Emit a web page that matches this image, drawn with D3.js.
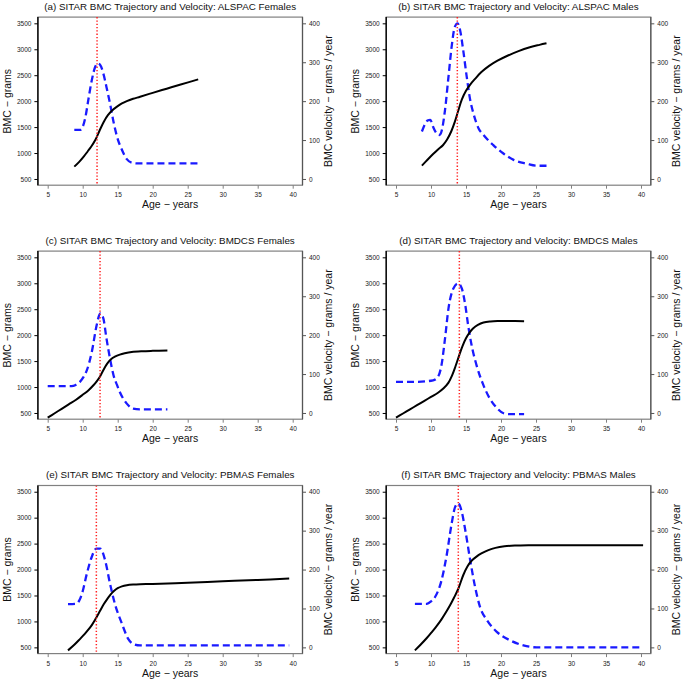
<!DOCTYPE html>
<html>
<head>
<meta charset="utf-8">
<script src="https://cdn.jsdelivr.net/npm/d3@7"></script>
<style>
body{margin:0;background:#fff;}
text{font-family:"Liberation Sans",Arial,Helvetica,sans-serif;}
</style>
</head>
<body>
<svg id="chart" width="685" height="679"></svg>
<script>
// data: ages (years), BMC (grams), velocity (grams/year)
var titles = [
    "(a) SITAR BMC Trajectory and Velocity: ALSPAC Females",
    "(b) SITAR BMC Trajectory and Velocity: ALSPAC Males",
    "(c) SITAR BMC Trajectory and Velocity: BMDCS Females",
    "(d) SITAR BMC Trajectory and Velocity: BMDCS Males",
    "(e) SITAR BMC Trajectory and Velocity: PBMAS Females",
    "(f) SITAR BMC Trajectory and Velocity: PBMAS Males"
];
var peakAges = [12.05, 13.76, 12.48, 14.05, 11.95, 13.9];

var ageTicks = [5, 10, 15, 20, 25, 30, 35, 40];
var bmcTicks = [500, 1000, 1500, 2000, 2500, 3000, 3500];
var velTicks = [0, 100, 200, 300, 400];

var ageBmcA = [8.8, 9.5, 10.2, 10.7, 11.2, 11.8, 12.4, 13.0, 13.6, 14.2, 14.9, 15.6, 16.3, 17.2, 18.2, 20, 22, 24, 26.5];
var bmcA    = [738, 830, 940, 1030, 1120, 1250, 1430, 1600, 1730, 1820, 1895, 1955, 2000, 2045, 2085, 2160, 2240, 2320, 2420];
var ageVelA = [8.8, 9.6, 10.0, 10.4, 10.8, 11.3, 11.8, 12.1, 12.5, 12.95, 13.4, 13.9, 14.4, 14.9, 15.6, 16.3, 17.0, 17.7, 20, 26.5];
var velA    = [126, 126, 134, 160, 203, 254, 289, 297, 293, 271, 236, 194, 147, 109, 75, 51, 42, 40, 40, 40];

var ageBmcB = [8.7, 9.5, 10.3, 11.0, 11.7, 12.3, 12.9, 13.4, 13.9, 14.4, 15.0, 15.6, 16.3, 17.2, 18.3, 19.5, 21, 22.5, 24, 25.5, 26.5];
var bmcB    = [757, 870, 980, 1070, 1150, 1260, 1420, 1600, 1820, 2030, 2200, 2320, 2430, 2560, 2680, 2780, 2880, 2965, 3035, 3085, 3115];
var ageVelB = [8.7, 9.5, 9.9, 10.3, 10.8, 11.2, 11.5, 12.0, 12.5, 12.95, 13.4, 13.8, 14.15, 14.6, 15.1, 15.6, 16.05, 16.8, 17.5, 18.9, 20.3, 21.8, 23.7, 25.1, 26.5];
var velB    = [122, 150, 152, 134, 117, 113, 122, 177, 263, 340, 391, 400, 383, 331, 263, 203, 169, 130, 113, 87, 66, 49, 39, 34, 34];

var ageBmcC = [5, 6, 7, 8, 9, 10, 10.8, 11.5, 12.0, 12.5, 13.0, 13.5, 14.0, 14.6, 15.3, 16.0, 17.0, 18.5, 20, 22.1];
var bmcC    = [410, 495, 580, 665, 750, 850, 935, 1030, 1110, 1210, 1340, 1450, 1530, 1585, 1625, 1650, 1675, 1690, 1697, 1703];
var ageVelC = [5, 8.4, 9.0, 9.6, 10.1, 10.6, 11.3, 12.0, 12.5, 12.95, 13.4, 13.9, 14.4, 14.9, 15.3, 16.3, 17.2, 18.2, 22.1];
var velC    = [69, 69, 72, 80, 92, 110, 157, 226, 256, 243, 191, 140, 97, 72, 54, 24, 11, 9, 9];

var ageBmcD = [5, 6, 7, 8, 9, 10, 11, 11.8, 12.5, 13.0, 13.5, 14.0, 14.5, 15.0, 15.5, 16.0, 16.7, 17.5, 18.5, 19.5, 21, 23.3];
var bmcD    = [410, 490, 570, 650, 730, 810, 890, 975, 1085, 1220, 1400, 1600, 1790, 1940, 2050, 2130, 2200, 2245, 2265, 2272, 2272, 2270];
var ageVelD = [5, 8, 10.3, 11.0, 11.5, 12.0, 12.5, 13.2, 13.9, 14.4, 14.9, 15.3, 15.8, 16.5, 17.5, 18.4, 19.4, 20.3, 21.3, 23.3];
var velD    = [80, 80, 84, 93, 123, 191, 269, 320, 333, 320, 277, 226, 174, 123, 71, 37, 13, 0, -3, -3];

var ageBmcE = [7.9, 8.8, 9.6, 10.3, 10.8, 11.3, 11.8, 12.5, 13.0, 13.5, 14.0, 14.5, 15.0, 15.6, 16.3, 17.2, 18.2, 20, 25, 30, 35, 39.5];
var bmcE    = [442, 550, 660, 760, 840, 930, 1040, 1210, 1330, 1430, 1520, 1590, 1640, 1675, 1697, 1710, 1717, 1722, 1745, 1775, 1800, 1826];
var ageVelE = [7.9, 9.1, 9.5, 9.9, 10.6, 11.3, 11.95, 12.5, 13.2, 13.9, 14.6, 15.6, 16.5, 17.2, 18.2, 39.5];
var velE    = [111, 112, 120, 138, 190, 233, 254, 254, 224, 164, 112, 61, 22, 9, 5, 5];

var ageBmcF = [7.7, 8.5, 9.4, 10.2, 10.8, 11.5, 12.2, 12.8, 13.3, 13.9, 14.6, 15.2, 15.8, 16.5, 17.2, 18.2, 19.2, 20.5, 22, 24, 30, 40.3];
var bmcF    = [442, 550, 680, 810, 910, 1040, 1190, 1330, 1460, 1630, 1890, 2060, 2170, 2250, 2310, 2375, 2418, 2448, 2462, 2468, 2470, 2470];
var ageVelF = [7.7, 9.4, 10.0, 10.6, 11.5, 12.2, 12.95, 13.45, 13.9, 14.4, 14.9, 15.6, 16.3, 17.0, 18.0, 19.4, 21.3, 23.2, 25.1, 40.3];
var velF    = [112, 112, 118, 130, 172, 233, 318, 361, 370, 348, 301, 224, 155, 104, 70, 40, 18, 5, 0, 0];

var bmcAges = [ageBmcA, ageBmcB, ageBmcC, ageBmcD, ageBmcE, ageBmcF];
var bmcVals = [bmcA, bmcB, bmcC, bmcD, bmcE, bmcF];
var velAges = [ageVelA, ageVelB, ageVelC, ageVelD, ageVelE, ageVelF];
var velVals = [velA, velB, velC, velD, velE, velF];

class panel {

    constructor(svg, i) {
        this.svg = svg;
        this.i = i;
        this.box = {
            "left": i % 2 === 0 ? 37.9 : 386.2,
            "width": 264.6,
            "top": [17.1, 251.1, 485.5][Math.floor(i / 2)],
            "height": 168.1
        };
    }

    draw() {
        var b = this.box;
        var i = this.i;
        var x = d3.scaleLinear().domain([3.6, 41.4]).range([b.left, b.left + b.width]);
        var yL = d3.scaleLinear().domain([380, 3620]).range([b.top + b.height, b.top]);
        var yR = d3.scaleLinear().domain([-16, 416]).range([b.top + b.height, b.top]);

        var g = this.svg.append("g");

        g.append("clipPath").attr("id", "clip" + i)
            .append("rect").attr("x", b.left).attr("y", b.top)
            .attr("width", b.width).attr("height", b.height);

        // box
        g.append("rect").attr("x", b.left).attr("y", b.top)
            .attr("width", b.width).attr("height", b.height)
            .attr("fill", "none").attr("stroke", "#808080").attr("stroke-width", 1.2);

        var fmt = d3.format("d");

        var xAx = g.append("g").attr("transform", "translate(0," + (b.top + b.height) + ")")
            .call(d3.axisBottom(x).tickValues(ageTicks).tickFormat(fmt).tickSize(3.5).tickPadding(4));
        xAx.select(".domain").remove();
        xAx.selectAll("line").attr("stroke", "#808080");

        var lAx = g.append("g").attr("transform", "translate(" + b.left + ",0)")
            .call(d3.axisLeft(yL).tickValues(bmcTicks).tickFormat(fmt).tickSize(3.5).tickPadding(3));
        lAx.select(".domain").remove();
        lAx.selectAll("line").attr("stroke", "#000");

        var rAx = g.append("g").attr("transform", "translate(" + (b.left + b.width) + ",0)")
            .call(d3.axisRight(yR).tickValues(velTicks).tickFormat(fmt).tickSize(3.5).tickPadding(3));
        rAx.select(".domain").remove();
        rAx.selectAll("line").attr("stroke", "#555");

        g.selectAll(".tick text").attr("font-size", 6.5).attr("fill", "#222")
            .style("font-family", "'Liberation Sans',Arial,sans-serif");

        // left (black) and right axis lines
        g.append("line").attr("x1", b.left).attr("x2", b.left)
            .attr("y1", b.top).attr("y2", b.top + b.height)
            .attr("stroke", "#000").attr("stroke-width", 1.4);
        g.append("line").attr("x1", b.left + b.width).attr("x2", b.left + b.width)
            .attr("y1", b.top).attr("y2", b.top + b.height)
            .attr("stroke", "#555").attr("stroke-width", 1.2);

        var plot = g.append("g").attr("clip-path", "url(#clip" + i + ")");

        var bmcLine = d3.line().x(d => x(d[0])).y(d => yL(d[1])).curve(d3.curveCatmullRom.alpha(0.5));
        var velLine = d3.line().x(d => x(d[0])).y(d => yR(d[1])).curve(d3.curveMonotoneX);

        plot.append("path")
            .attr("d", velLine(d3.zip(velAges[i], velVals[i])))
            .attr("fill", "none").attr("stroke", "#1a1aff").attr("stroke-width", 2.3)
            .attr("stroke-dasharray", "7,4");

        plot.append("path")
            .attr("d", bmcLine(d3.zip(bmcAges[i], bmcVals[i])))
            .attr("fill", "none").attr("stroke", "#000").attr("stroke-width", 2);

        plot.append("line")
            .attr("x1", x(peakAges[i])).attr("x2", x(peakAges[i]))
            .attr("y1", b.top).attr("y2", b.top + b.height)
            .attr("stroke", "#ff2020").attr("stroke-width", 1.5)
            .attr("stroke-dasharray", "1.3,2");

        var cx = b.left + b.width / 2;
        var cy = b.top + b.height / 2;

        g.append("text").attr("x", cx).attr("y", b.top - 7.5)
            .attr("text-anchor", "middle").attr("font-size", 9.8).attr("fill", "#111")
            .text(titles[i]);

        g.append("text").attr("x", cx).attr("y", b.top + b.height + 23)
            .attr("text-anchor", "middle").attr("font-size", 10.5).attr("fill", "#111")
            .text("Age \u2212 years");

        g.append("text").attr("transform", "translate(" + (b.left - 27) + "," + cy + ") rotate(-90)")
            .attr("text-anchor", "middle").attr("font-size", 10.5).attr("fill", "#111")
            .text("BMC \u2212 grams");

        g.append("text").attr("transform", "translate(" + (b.left + b.width + 29) + "," + cy + ") rotate(-90)")
            .attr("text-anchor", "middle").attr("font-size", 10.5).attr("fill", "#111")
            .text("BMC velocity \u2212 grams / year");
    }
}

var svg = d3.select("#chart");
svg.append("rect").attr("width", 685).attr("height", 679).attr("fill", "#fff");

for (var k = 0; k < 6; k++) {
    new panel(svg, k).draw();
}
</script>
</body>
</html>
